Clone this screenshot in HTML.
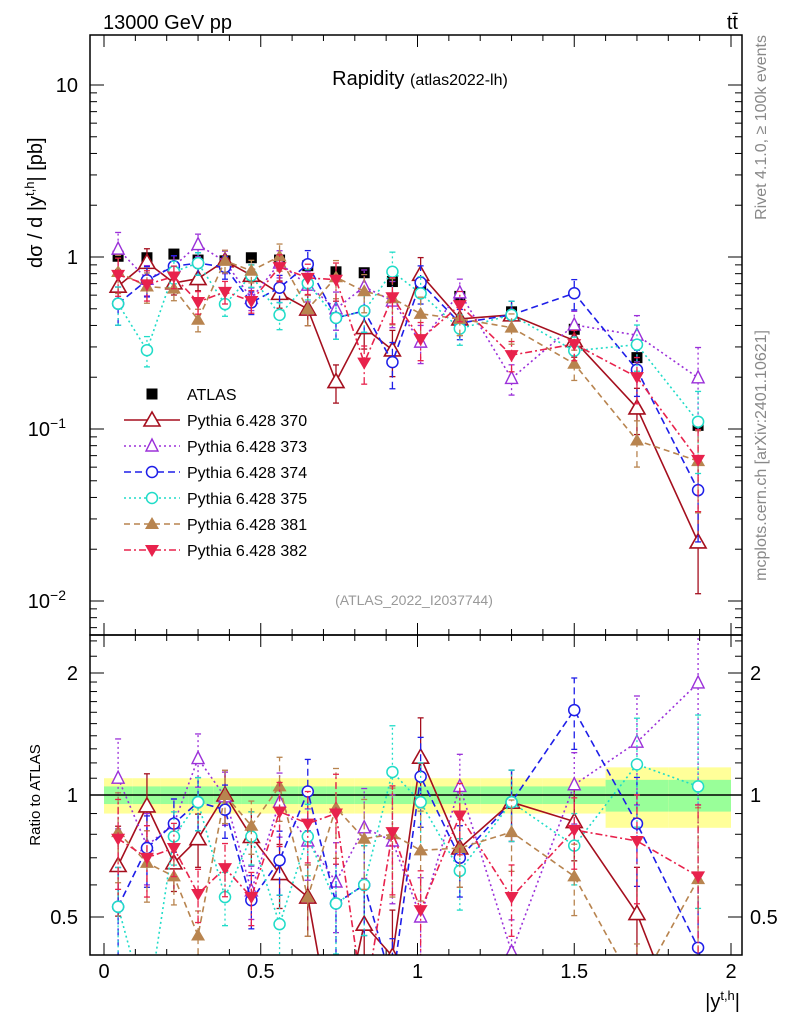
<!DOCTYPE html>
<html><head><meta charset="utf-8"><style>
html,body{margin:0;padding:0;background:#fff;width:786px;height:1024px;overflow:hidden;}
svg{display:block;font-family:"Liberation Sans",sans-serif;}
</style></head><body>
<svg id="chart" width="786" height="1024" viewBox="0 0 786 1024" xmlns="http://www.w3.org/2000/svg" overflow="hidden">
<defs>
<clipPath id="clipMain"><rect x="90" y="35" width="652" height="600"/></clipPath>
<clipPath id="clipRatio"><rect x="90" y="635" width="652" height="320"/></clipPath>
</defs>
<g id="bands" clip-path="url(#clipRatio)"></g>
<g id="grid"></g>
<g id="seriesMain" clip-path="url(#clipMain)"></g>
<g id="seriesRatio" clip-path="url(#clipRatio)"></g>
<rect x="90" y="35" width="652" height="600" fill="none" stroke="#000" stroke-width="1.5"/>
<rect x="90" y="635" width="652" height="320" fill="none" stroke="#000" stroke-width="1.5"/>
<text x="103" y="29" font-size="20">13000 GeV pp</text>
<text x="738" y="29" font-size="20" text-anchor="end">tt̄</text>
<text x="420" y="85" font-size="20" text-anchor="middle">Rapidity <tspan font-size="16">(atlas2022-lh)</tspan></text>
<text x="414" y="605" font-size="14" fill="#999" text-anchor="middle">(ATLAS_2022_I2037744)</text>
<text transform="translate(42,268) rotate(-90)" font-size="20">dσ / d |y<tspan dy="-8" font-size="13">t,h</tspan><tspan dy="8">| [pb]</tspan></text>
<text transform="translate(40,795) rotate(-90)" font-size="15" text-anchor="middle">Ratio to ATLAS</text>
<text x="740" y="1008" font-size="20" text-anchor="end">|y<tspan dy="-8" font-size="13">t,h</tspan><tspan dy="8">|</tspan></text>
<text transform="translate(766,35) rotate(-90)" font-size="16" fill="#888" text-anchor="end">Rivet 4.1.0, ≥ 100k events</text>
<text transform="translate(766,330) rotate(-90)" font-size="16" fill="#888" text-anchor="end">mcplots.cern.ch [arXiv:2401.10621]</text>
<g id="legend"></g>
</svg>
<script>
const edges = [0,0.09,0.18,0.27,0.35,0.44,0.53,0.62,0.71,0.80,0.89,0.98,1.05,1.2,1.4,1.6,1.8,2.0];
const xCenters = [0.045,0.137,0.223,0.30,0.386,0.47,0.56,0.65,0.74,0.83,0.92,1.01,1.135,1.30,1.50,1.70,1.895];
const atlas = [1.01,0.99,1.04,0.96,0.95,0.99,0.96,0.89,0.82,0.81,0.72,0.64,0.59,0.48,0.38,0.26,0.105];
const atlasInner = [0.05,0.05,0.05,0.05,0.05,0.05,0.05,0.05,0.05,0.05,0.05,0.05,0.05,0.05,0.05,0.09,0.09];
const atlasOuter = [0.10,0.10,0.10,0.10,0.10,0.10,0.10,0.10,0.10,0.10,0.10,0.10,0.10,0.10,0.10,0.17,0.17];
const ratio370 = [0.67,0.94,0.68,0.78,1.0,0.79,0.64,0.56,0.23,0.48,0.40,1.24,0.74,0.96,0.86,0.51,0.21];
const ratio373 = [1.10,0.75,0.85,1.23,0.99,0.58,0.96,0.77,0.61,0.83,0.77,0.50,1.05,0.41,1.06,1.35,1.89];
const ratio374 = [0.53,0.74,0.85,0.96,0.92,0.55,0.69,1.02,0.54,0.60,0.34,1.11,0.70,0.96,1.62,0.85,0.42];
const ratio375 = [0.53,0.29,0.79,0.96,0.56,0.79,0.48,0.79,0.54,0.60,1.14,0.96,0.65,0.96,0.75,1.19,1.05];
const ratio381 = [0.81,0.68,0.63,0.45,1.0,0.84,1.05,0.56,0.93,0.78,0.80,0.73,0.74,0.81,0.63,0.33,0.62];
const ratio382 = [0.78,0.70,0.74,0.57,0.66,0.56,0.91,0.85,0.90,0.30,0.81,0.52,0.89,0.56,0.82,0.77,0.63];
const errRel = [0.25,0.2,0.15,0.15,0.15,0.15,0.18,0.2,0.25,0.25,0.3,0.25,0.2,0.2,0.2,0.3,0.5];
const xTicks = [0,0.5,1,1.5,2];
const xTickLabels = ["0","0.5","1","1.5","2"];

const NS="http://www.w3.org/2000/svg";
const X = v => 104 + v*313.5;
const YM = v => 257 - 172*Math.log10(v);
const YR = v => 795 - 122*Math.log2(v);
function mk(tag, attrs, parent){const e=document.createElementNS(NS,tag);for(const k in attrs)e.setAttribute(k,attrs[k]);parent.appendChild(e);return e;}

const series = [
 {id:"370",label:"Pythia 6.428 370",color:"#a50f1e",dash:"",marker:"tri-open",r:ratio370},
 {id:"373",label:"Pythia 6.428 373",color:"#9b30d9",dash:"2,3",marker:"tri-open-small",r:ratio373},
 {id:"374",label:"Pythia 6.428 374",color:"#1e1ee8",dash:"7,4",marker:"circ",r:ratio374},
 {id:"375",label:"Pythia 6.428 375",color:"#20dcc8",dash:"2,3",marker:"circ",r:ratio375},
 {id:"381",label:"Pythia 6.428 381",color:"#b8844f",dash:"6,4",marker:"tri-up",r:ratio381},
 {id:"382",label:"Pythia 6.428 382",color:"#e8224c",dash:"7,3,2,3",marker:"tri-down",r:ratio382}
];

function marker(g,type,cx,cy,color){
  let e;
  if(type==="tri-open"){e=mk("polygon",{points:`${cx},${cy-8} ${cx-8},${cy+6} ${cx+8},${cy+6}`,fill:"#fff",stroke:color,"stroke-width":1.6},g);}
  else if(type==="tri-open-small"){e=mk("polygon",{points:`${cx},${cy-7} ${cx-6},${cy+5} ${cx+6},${cy+5}`,fill:"#fff",stroke:color,"stroke-width":1.4},g);}
  else if(type==="circ"){e=mk("circle",{cx:cx,cy:cy,r:5.5,fill:"#fff",stroke:color,"stroke-width":1.5},g);}
  else if(type==="tri-up"){e=mk("polygon",{points:`${cx},${cy-7} ${cx-7},${cy+5} ${cx+7},${cy+5}`,fill:color},g);}
  else if(type==="tri-down"){e=mk("polygon",{points:`${cx},${cy+7} ${cx-7},${cy-5} ${cx+7},${cy-5}`,fill:color},g);}
  else if(type==="square"){e=mk("rect",{x:cx-5.5,y:cy-5.5,width:11,height:11,fill:"#000"},g);}
  return e;
}

const bandsG=document.getElementById("bands");
for(let i=0;i<atlas.length;i++){
  const x0=X(edges[i]), x1=X(edges[i+1]);
  const b1=mk("rect",{x:x0,y:YR(1+atlasOuter[i]),width:x1-x0,height:YR(1-atlasOuter[i])-YR(1+atlasOuter[i]),fill:"#ffff99"},bandsG);
  
  
  const b2=mk("rect",{x:x0,y:YR(1+atlasInner[i]),width:x1-x0,height:YR(1-atlasInner[i])-YR(1+atlasInner[i]),fill:"#99ff99"},bandsG);
  
  
}
const unity=mk("line",{x1:90,x2:742,y1:YR(1),y2:YR(1),stroke:"#000","stroke-width":1.5},bandsG);



const grid=document.getElementById("grid");
for(let v=0;v<=2.0001;v+=0.1){
  const major=Math.abs(v*2-Math.round(v*2))<1e-6;
  const L=major?12:6;
  [[635,-1],[955,-1],[35,1],[635,1]].forEach(([y,d])=>{
    mk("line",{x1:X(v),x2:X(v),y1:y,y2:y+d*L,stroke:"#000","stroke-width":1},grid);
  });
}
xTicks.forEach((v,i)=>{
  const t=mk("text",{x:X(v),y:978,"font-size":20,"text-anchor":"middle"},grid);
  t.textContent=xTickLabels[i];
  
  
});
for(let e=-3;e<=1;e++){
  for(let m=1;m<10;m++){
    const v=m*Math.pow(10,e), y=YM(v);
    if(y<35||y>635)continue;
    const L=m===1?14:7;
    mk("line",{x1:90,x2:90+L,y1:y,y2:y,stroke:"#000"},grid);
    mk("line",{x1:742,x2:742-L,y1:y,y2:y,stroke:"#000"},grid);
  }
}
[[10,"10",""],[1,"1",""],[0.1,"10","−1"],[0.01,"10","−2"]].forEach(([v,b,s])=>{
  const t=mk("text",{x:s?66:78,y:YM(v)+7,"font-size":20,"text-anchor":"end"},grid);
  t.textContent=b;
  if(s){const ts=mk("tspan",{dy:-8,"font-size":14},t);ts.textContent=s;}
  
  
});
[0.5,0.6,0.7,0.8,0.9,1,1.1,1.2,1.3,1.4,1.5,1.6,1.7,1.8,1.9,2,2.2,2.4].forEach(v=>{
  const y=YR(v); if(y<635||y>955)return;
  const L=(v===0.5||v===1||v===2)?14:7;
  mk("line",{x1:90,x2:90+L,y1:y,y2:y,stroke:"#000"},grid);
  mk("line",{x1:742,x2:742-L,y1:y,y2:y,stroke:"#000"},grid);
});
[[2,"2"],[1,"1"],[0.5,"0.5"]].forEach(([v,s])=>{
  const t=mk("text",{x:78,y:YR(v)+7,"font-size":20,"text-anchor":"end"},grid);t.textContent=s;
  
  
  const t2=mk("text",{x:750,y:YR(v)+7,"font-size":20},grid);t2.textContent=s;
  
  
});

const gM=document.getElementById("seriesMain"), gR=document.getElementById("seriesRatio");
series.forEach(s=>{
  const vals=s.r.map((r,i)=>r*atlas[i]);
  [[gM,vals,YM,"main"],[gR,s.r,YR,"ratio"]].forEach(([g,arr,Y,pn])=>{
    const sg=mk("g",{},g);
    
    
    arr.forEach((v,i)=>{
      const lo=v*(1-Math.min(errRel[i],0.9)), hi=v*(1+errRel[i]);
      mk("line",{x1:X(xCenters[i]),x2:X(xCenters[i]),y1:Y(lo),y2:Y(hi),stroke:s.color,"stroke-width":1.3,"stroke-dasharray":s.dash},sg);
      mk("line",{x1:X(xCenters[i])-3,x2:X(xCenters[i])+3,y1:Y(lo),y2:Y(lo),stroke:s.color,"stroke-width":1.3},sg);
      mk("line",{x1:X(xCenters[i])-3,x2:X(xCenters[i])+3,y1:Y(hi),y2:Y(hi),stroke:s.color,"stroke-width":1.3},sg);
    });
    const pts=arr.map((v,i)=>X(xCenters[i])+","+Y(v)).join(" ");
    const pl=mk("polyline",{points:pts,fill:"none",stroke:s.color,"stroke-width":1.6,"stroke-dasharray":s.dash},sg);
    
    
    arr.forEach((v,i)=>{
      const m=marker(sg,s.marker,X(xCenters[i]),Y(v),s.color);
      
      
    });
  });
});
const ag=mk("g",{},gM);


atlas.forEach((v,i)=>{
  const m=marker(ag,"square",X(xCenters[i]),YM(v),"#000");
  
  
});
gM.insertBefore(ag,gM.firstChild);

const lg=document.getElementById("legend");


const ly0=394;
const la=mk("g",{},lg);


marker(la,"square",152,ly0,"#000");
const lat=mk("text",{x:187,y:ly0+6,"font-size":16},la);lat.textContent="ATLAS";
series.forEach((s,k)=>{
  const y=ly0+26*(k+1);
  const e=mk("g",{},lg);
  
  
  mk("line",{x1:124,x2:180,y1:y,y2:y,stroke:s.color,"stroke-width":1.6,"stroke-dasharray":s.dash},e);
  marker(e,s.marker,152,y,s.color);
  const t=mk("text",{x:187,y:y+6,"font-size":16},e);t.textContent=s.label;
});
</script>
</body></html>
